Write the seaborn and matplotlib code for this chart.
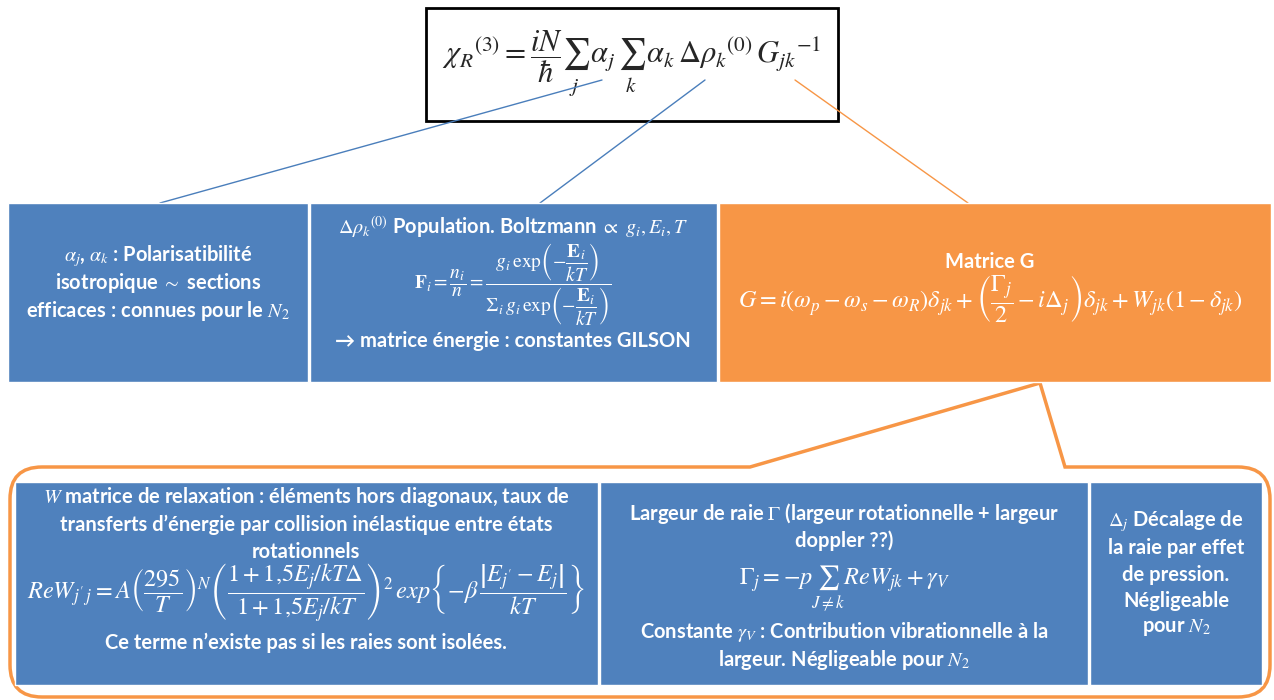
import matplotlib
matplotlib.use("Agg")
import matplotlib.pyplot as plt
import seaborn as sns
from matplotlib.path import Path
from matplotlib.patches import PathPatch, Rectangle

sns.set_style("white")
plt.rcParams["font.family"] = ["Lato", "DejaVu Sans"]
plt.rcParams["mathtext.fontset"] = "stix"

BLUE = "#4F81BD"
ORANGE = "#F79646"

# ---- content -------------------------------------------------------------
top_formula = (r"$\chi_{R}{}^{(3)} = \dfrac{iN}{\hbar}\sum_{j}\,\alpha_j\,\sum_{k}\,\alpha_k\,"
               r"\Delta\rho_k{}^{(0)}\,G_{jk}{}^{-1}$")

box1_lines = [r"$\alpha_j$, $\alpha_k$ : Polarisatibilité",
              r"isotropique $\sim$ sections",
              r"efficaces : connues pour le $N_2$"]

box2_lines = [r"$\Delta\rho_k{}^{(0)}$ Population. Boltzmann $\propto$ $g_i, E_i, T$",
              r"$\mathbf{F}_i = \dfrac{n_i}{n} = \dfrac{g_i\,\mathrm{exp}\left(-\dfrac{\mathbf{E}_i}{kT}\right)}"
              r"{\Sigma_i\, g_i\,\mathrm{exp}\left(-\dfrac{\mathbf{E}_i}{kT}\right)}$",
              "\u2192 matrice énergie : constantes GILSON"]

box3_lines = ["Matrice G",
              r"$G = i\left(\omega_p - \omega_s - \omega_R\right)\delta_{jk} + "
              r"\left(\dfrac{\Gamma_j}{2} - i\Delta_j\right)\delta_{jk} + W_{jk}(1 - \delta_{jk})$"]

boxA_lines = [r"$W$ matrice de relaxation : éléments hors diagonaux, taux de",
              "transferts d\u2019énergie par collision inélastique entre états",
              "rotationnels",
              r"$ReW_{j'\,j} = A\left(\dfrac{295}{T}\right)^{N}"
              r"\left(\dfrac{1+1{,}5E_j/kT\Delta}{1+1{,}5E_j/kT}\right)^{2}\,exp"
              r"\left\{-\beta\,\dfrac{\left|E_{j'} - E_j\right|}{kT}\right\}$",
              "Ce terme n\u2019existe pas si les raies sont isolées."]

boxB_lines = [r"Largeur de raie $\Gamma$ (largeur rotationnelle + largeur",
              "doppler ??)",
              r"$\Gamma_j = -p\sum_{J\neq k} ReW_{jk} + \gamma_V$",
              r"Constante $\gamma_V$ : Contribution vibrationnelle à la",
              r"largeur. Négligeable pour $N_2$"]

boxC_lines = [r"$\Delta_j$ Décalage de",
              "la raie par effet",
              "de pression.",
              "Négligeable",
              r"pour $N_2$"]

# ---- layout (pixels) -----------------------------------------------------
W, H = 1274, 700
fig = plt.figure(figsize=(W / 100, H / 100), dpi=100)
ax = fig.add_axes([0, 0, 1, 1])
ax.set_xlim(0, W)
ax.set_ylim(H, 0)
ax.axis("off")

# top formula box
ax.add_patch(Rectangle((426, 8), 412, 113, facecolor="white", edgecolor="black", lw=2, zorder=2))
ax.text(632, 64, top_formula, ha="center", va="center", fontsize=22, zorder=3)

# connectors from formula
ax.plot([602, 160], [80, 203], color="#4A7EBB", lw=1.0, zorder=3)
ax.plot([705, 540], [80, 203], color="#4A7EBB", lw=1.0, zorder=3)
ax.plot([795, 968], [80, 203], color=ORANGE, lw=1.0, zorder=3)

# middle row of boxes
mid = [(8, 203, 300, 179, BLUE), (310, 203, 407, 179, BLUE), (719, 203, 552, 179, ORANGE)]
for x, y, w, h, c in mid:
    ax.add_patch(Rectangle((x, y), w, h, facecolor=c, edgecolor="white", lw=1, zorder=4))

FS, MS = 14.5, 17.5
txt = dict(ha="center", va="center", color="white", fontweight="bold", fontsize=FS, zorder=5)
for s, yy in zip(box1_lines, [256, 283, 311]):
    ax.text(158, yy, s, **txt)
for s, yy, fs in zip(box2_lines, [227, 285, 341], [FS, 14, FS]):
    ax.text(513, yy, s, **{**txt, "fontsize": fs})
for s, yy, fs in zip(box3_lines, [262, 298], [FS, MS]):
    ax.text(990, yy, s, **{**txt, "fontsize": fs})

# callout outline
r = 32
L, R, T, B = 10, 1270, 467, 697
verts = [(750, T), (L + r, T), (L, T), (L, T + r), (L, B - r), (L, B), (L + r, B),
         (R - r, B), (R, B), (R, B - r), (R, T + r), (R, T), (R - r, T),
         (1065, T), (1040, 383), (750, T)]
codes = [Path.MOVETO, Path.LINETO, Path.CURVE3, Path.CURVE3, Path.LINETO, Path.CURVE3, Path.CURVE3,
         Path.LINETO, Path.CURVE3, Path.CURVE3, Path.LINETO, Path.CURVE3, Path.CURVE3,
         Path.LINETO, Path.LINETO, Path.CLOSEPOLY]
ax.add_patch(PathPatch(Path(verts, codes), facecolor="white", edgecolor=ORANGE, lw=2.5, zorder=2))

bot = [(15, 482, 583, 203), (600, 482, 488, 203), (1090, 482, 172, 203)]
for x, y, w, h in bot:
    ax.add_patch(Rectangle((x, y), w, h, facecolor=BLUE, edgecolor="white", lw=1, zorder=3))

for s, yy, fs in zip(boxA_lines, [497, 525, 552, 592, 643], [FS, FS, FS, MS, FS]):
    ax.text(306, yy, s, **{**txt, "fontsize": fs})
for s, yy, fs in zip(boxB_lines, [514, 541, 588, 632, 660], [FS, FS, MS, FS, FS]):
    ax.text(844, yy, s, **{**txt, "fontsize": fs})
for s, yy in zip(boxC_lines, [521, 548, 575, 601, 628]):
    ax.text(1176, yy, s, **txt)

fig.savefig("out.png", dpi=100)
